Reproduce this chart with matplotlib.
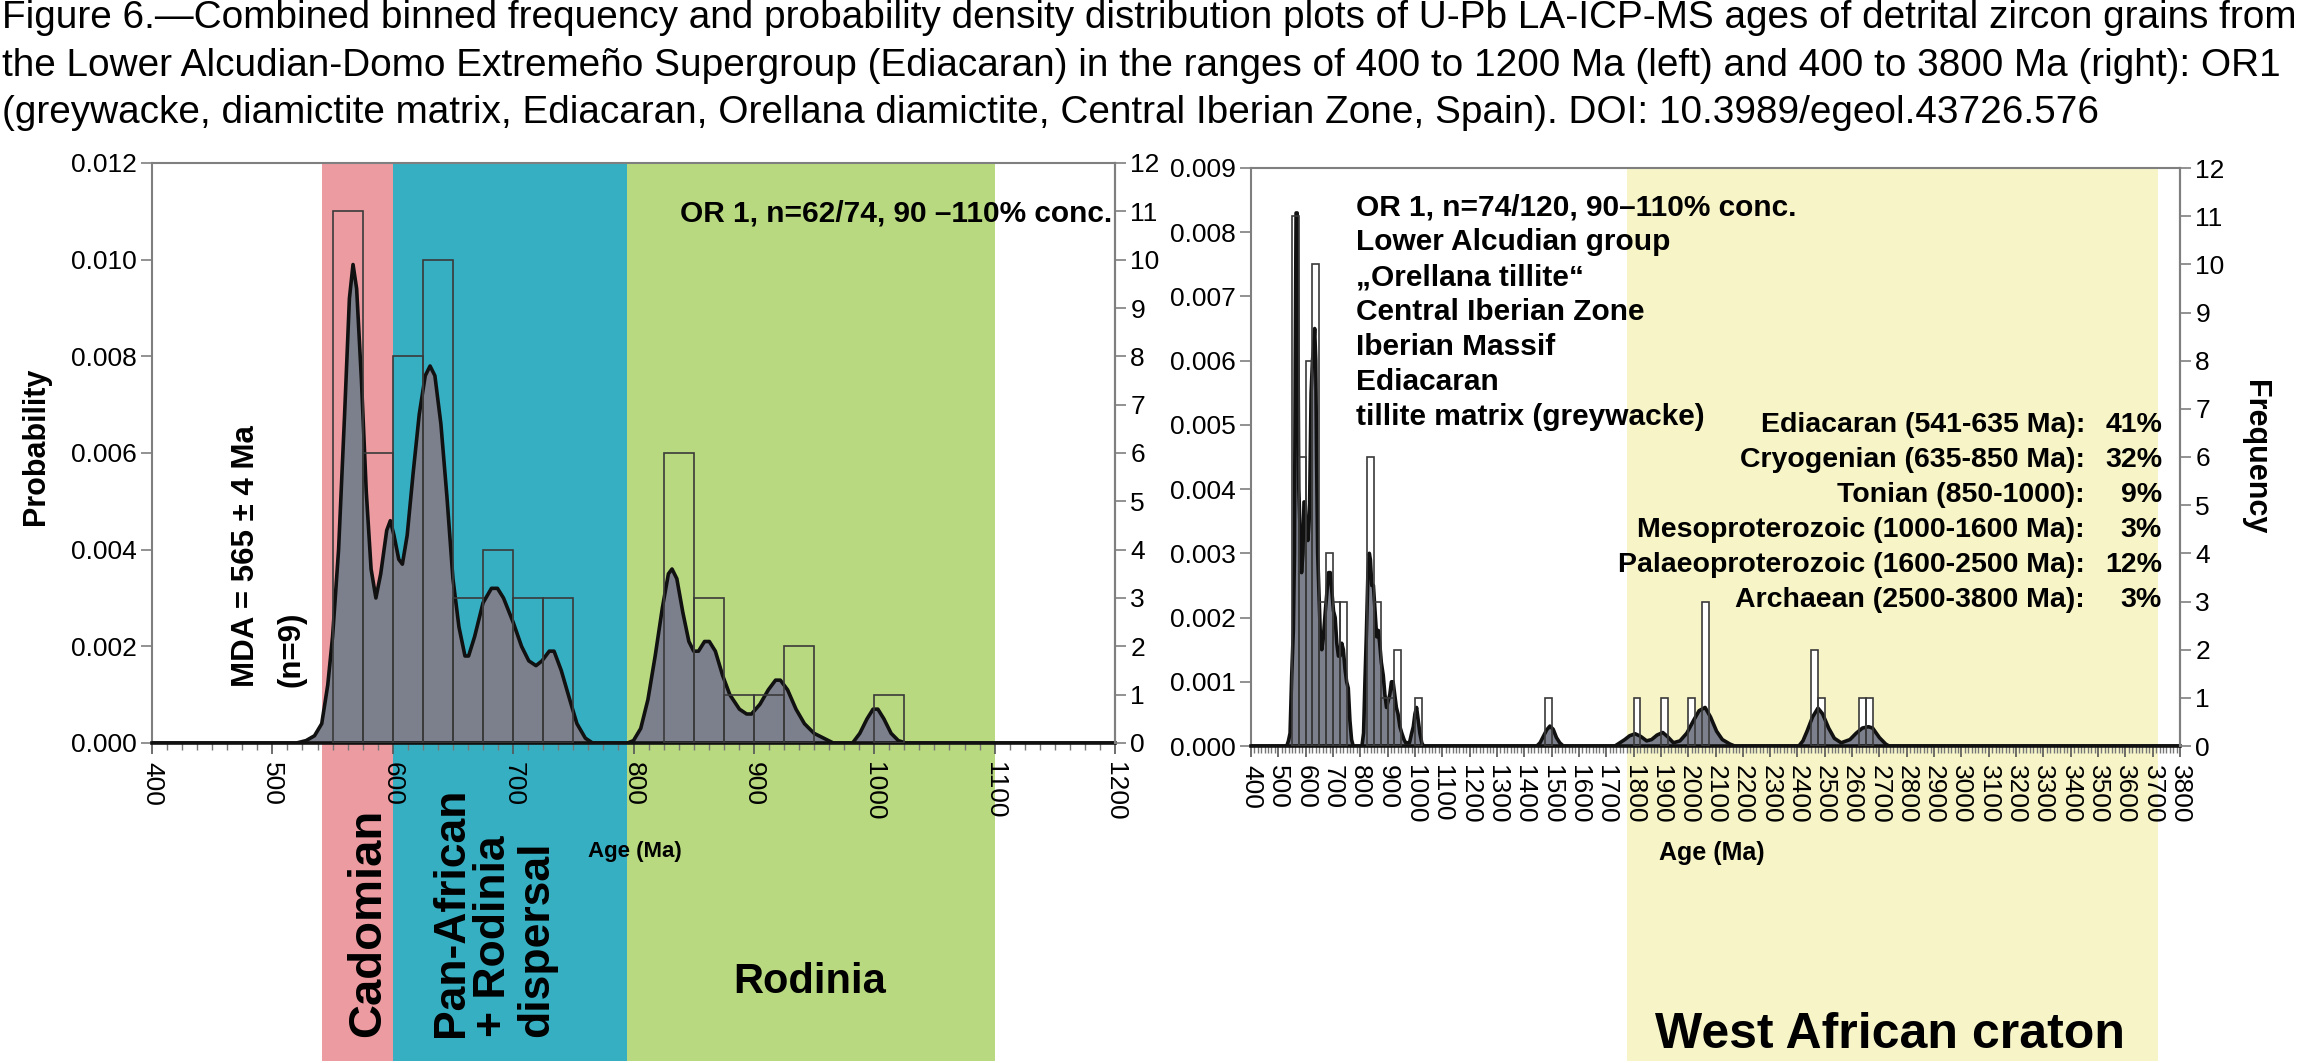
import matplotlib
matplotlib.use("Agg")
import matplotlib.pyplot as plt
import matplotlib.transforms as mtransforms
from matplotlib.patches import Rectangle
from matplotlib.ticker import MultipleLocator, FormatStrFormatter

plt.rcParams['font.family'] = ['Liberation Sans', 'DejaVu Sans']

# ---- data ----
caption = [
    "Figure 6.\u2014Combined binned frequency and probability density distribution plots of U-Pb LA-ICP-MS ages of detrital zircon grains from",
    "the Lower Alcudian-Domo Extreme\u00f1o Supergroup (Ediacaran) in the ranges of 400 to 1200 Ma (left) and 400 to 3800 Ma (right): OR1",
    "(greywacke, diamictite matrix, Ediacaran, Orellana diamictite, Central Iberian Zone, Spain). DOI: 10.3989/egeol.43726.576",
]

bin_width = 25
left_bin_start = [550, 575, 600, 625, 650, 675, 700, 725, 825, 850, 875, 900, 925, 1000]
left_counts = [11, 6, 8, 10, 3, 4, 3, 3, 6, 3, 1, 1, 2, 1]

right_bin_start = left_bin_start + [1475, 1800, 1900, 2000, 2050, 2450, 2475, 2625, 2650]
right_counts = left_counts + [1, 1, 1, 1, 3, 2, 1, 1, 1]

left_pdp_age = [400, 520, 528, 535, 541, 546, 550, 555, 560, 564, 567, 570, 574, 578, 582, 586,
                590, 595, 598, 601, 605, 608, 612, 617, 622, 627, 631, 635, 640, 645, 650, 655,
                660, 663, 668, 675, 682, 687, 692, 700, 707, 713, 719, 724, 730, 734, 740, 747,
                753, 760, 766, 795, 800, 806, 812, 818, 824, 829, 832, 836, 841, 846, 850, 854,
                859, 863, 868, 874, 880, 888, 894, 898, 905, 912, 918, 922, 928, 935, 942, 950,
                958, 966, 982, 988, 994, 999, 1003, 1008, 1014, 1020, 1026, 1200]
left_pdp_prob = [0, 0, 0.00005, 0.00015, 0.0004, 0.0012, 0.0022, 0.0040, 0.0068, 0.0092, 0.0099,
                 0.0094, 0.0075, 0.0052, 0.0036, 0.0030, 0.0035, 0.0044, 0.0046, 0.0043, 0.0038,
                 0.0037, 0.0043, 0.0056, 0.0068, 0.0076, 0.0078, 0.0076, 0.0066, 0.0051, 0.0034,
                 0.0024, 0.0018, 0.0018, 0.0022, 0.0029, 0.0032, 0.0032, 0.0030, 0.0025, 0.0020,
                 0.0017, 0.0016, 0.0017, 0.0019, 0.0019, 0.0015, 0.0009, 0.0004, 0.0001, 0, 0,
                 0.00005, 0.0003, 0.0009, 0.0018, 0.0028, 0.0035, 0.0036, 0.0034, 0.0027, 0.0021,
                 0.0019, 0.0019, 0.0021, 0.0021, 0.0019, 0.0014, 0.0010, 0.0007, 0.0006, 0.0006,
                 0.0008, 0.0011, 0.0013, 0.0013, 0.0011, 0.0007, 0.0004, 0.0002, 0.0001, 0, 0,
                 0.0002, 0.0005, 0.0007, 0.0007, 0.0005, 0.0002, 0.00005, 0, 0]

right_pdp_age = [400, 525, 531, 537, 543, 549, 555, 559, 562, 565, 569, 572, 575, 580, 585, 590,
                 594, 598, 603, 608, 614, 620, 625, 629, 633, 637, 640, 644, 648, 654, 659, 665,
                 672, 678, 684, 690, 696, 702, 708, 714, 720, 726, 732, 738, 744, 750, 756, 762,
                 768, 774, 806, 812, 817, 822, 828, 833, 837, 842, 848, 854, 860, 866, 871, 877,
                 884, 890, 896, 902, 908, 914, 920, 926, 932, 938, 945, 952, 960, 966, 980, 988,
                 994, 1000, 1006, 1012, 1018, 1025, 1031, 1446, 1458, 1470, 1482, 1494, 1506, 1518,
                 1530, 1543, 1732, 1750, 1768, 1786, 1806, 1826, 1848, 1866, 1886, 1907, 1926, 1946,
                 1970, 1995, 2020, 2040, 2062, 2082, 2104, 2125, 2153, 2170, 2405, 2420, 2435, 2455,
                 2475, 2492, 2514, 2535, 2560, 2592, 2615, 2638, 2660, 2675, 2700, 2723, 2735, 3800]
right_pdp_prob = [0, 0, 0, 0.00008, 0.0002, 0.0011, 0.0018, 0.0030, 0.0060, 0.0083, 0.0083, 0.0060,
                  0.0040, 0.0033, 0.0027, 0.0030, 0.0038, 0.0038, 0.0034, 0.0032, 0.0036, 0.0055,
                  0.0060, 0.0062, 0.0065, 0.0060, 0.0045, 0.0030, 0.0025, 0.0017, 0.0015, 0.0017,
                  0.0021, 0.0024, 0.0027, 0.0027, 0.0024, 0.0021, 0.0020, 0.0016, 0.0014, 0.0014,
                  0.0016, 0.0015, 0.0012, 0.0010, 0.0009, 0.0004, 0.0001, 0, 0, 0.0002, 0.0010,
                  0.0017, 0.0027, 0.0030, 0.0029, 0.0025, 0.0025, 0.0021, 0.0017, 0.0018, 0.0016,
                  0.0013, 0.0011, 0.0008, 0.0006, 0.0007, 0.0008, 0.0010, 0.0010, 0.0008, 0.0006,
                  0.0005, 0.0003, 0.0002, 0.0001, 0.00005, 0.00005, 0.0002, 0.0003, 0.0005, 0.0006,
                  0.0004, 0.0002, 0.00005, 0, 0, 0.00005, 0.00015, 0.00025, 0.00031, 0.00026,
                  0.00013, 0.00005, 0, 0, 0.00005, 0.0001, 0.00016, 0.00019, 0.00015, 0.00008,
                  0.0001, 0.00017, 0.00021, 0.00014, 0.00005, 0.00008, 0.0002, 0.0004, 0.00055,
                  0.0006, 0.00045, 0.00023, 0.0001, 0.00003, 0, 0, 0.00008, 0.00023, 0.00045,
                  0.00059, 0.0005, 0.00028, 0.00012, 0.00005, 0.0001, 0.0002, 0.00028, 0.0003,
                  0.00028, 0.00013, 0.00003, 0, 0]

left_bands = [(541, 600, '#ec9ba1'), (600, 795, '#37afc3'), (795, 1100, '#b8d97f')]
right_bands = [(1775, 3720, '#f7f5c8')]

info_lines = ["OR 1, n=74/120, 90\u2013110% conc.", "Lower Alcudian group",
              "\u201eOrellana tillite\u201c", "Central Iberian Zone", "Iberian Massif",
              "Ediacaran", "tillite matrix (greywacke)"]
period_labels = ["Ediacaran (541-635 Ma):", "Cryogenian (635-850 Ma):", "Tonian (850-1000):",
                 "Mesoproterozoic (1000-1600 Ma):", "Palaeoproterozoic (1600-2500 Ma):",
                 "Archaean (2500-3800 Ma):"]
period_pct = ["41%", "32%", "9%", "3%", "12%", "3%"]

# ---- figure ----
W, H = 2324, 1063
fig = plt.figure(figsize=(W / 100, H / 100), dpi=100)


def fx(px):
    return px / W


def fy(py):
    return 1 - py / H


def rect_px(x0, x1, ytop, ybot):
    return [fx(x0), fy(ybot), (x1 - x0) / W, (ybot - ytop) / H]


GREY = '#7f7f7f'
PDP_FILL = '#7c808c'


def make_panel(rect, xmax, pmax, ages, probs, bin_start, counts, bands, white_bars):
    back = fig.add_axes(rect)
    back.set_axis_off()
    back.set_xlim(400, xmax)
    back.set_ylim(0, 12)
    trans = mtransforms.blended_transform_factory(back.transData, fig.transFigure)
    for a, b, c in bands:
        back.add_patch(Rectangle((a, 0.0015), b - a, rect[1] + rect[3] - 0.0015,
                                 transform=trans, facecolor=c, edgecolor='none',
                                 clip_on=False, zorder=0))
    if white_bars:
        back.bar(bin_start, counts, width=bin_width, align='edge', color='white',
                 edgecolor='none', zorder=1)

    mid = fig.add_axes(rect)
    mid.patch.set_visible(False)
    mid.set_xlim(400, xmax)
    mid.set_ylim(0, pmax)
    mid.fill_between(ages, probs, color=PDP_FILL, lw=0, zorder=2)
    mid.plot(ages, probs, color='#111111', lw=2.6, zorder=3, solid_joinstyle='round')

    mid.xaxis.set_major_locator(MultipleLocator(100))
    mid.xaxis.set_minor_locator(MultipleLocator(12.5))
    mid.yaxis.set_major_locator(MultipleLocator(0.001 if pmax < 0.01 else 0.002))
    mid.yaxis.set_major_formatter(FormatStrFormatter('%.3f'))
    mid.tick_params(axis='x', which='major', length=8, width=1.2, color='#555555',
                    labelsize=19, labelrotation=-90, pad=6)
    mid.tick_params(axis='x', which='minor', length=5, width=1, color='#777777')
    mid.tick_params(axis='y', length=8, width=1.2, color=GREY, labelsize=19, pad=3)
    for s in ['left', 'right', 'top']:
        mid.spines[s].set_color(GREY)
        mid.spines[s].set_linewidth(1.5)
    mid.spines['bottom'].set_color('#111111')
    mid.spines['bottom'].set_linewidth(2.6)

    top = mid.twinx()
    top.set_xlim(400, xmax)
    top.set_ylim(0, 12)
    top.set_yticks(range(13))
    top.bar(bin_start, counts, width=bin_width, align='edge', fill=False,
            edgecolor='#3a3a3a', lw=1.2, zorder=4)
    top.tick_params(axis='y', length=8, width=1.2, color=GREY, labelsize=19, pad=3)
    for s in ['left', 'top', 'bottom']:
        top.spines[s].set_visible(False)
    top.spines['right'].set_color(GREY)
    top.spines['right'].set_linewidth(1.5)
    return mid, top


make_panel(rect_px(152, 1115, 163, 743), 1200, 0.012, left_pdp_age, left_pdp_prob,
           left_bin_start, left_counts, left_bands, False)
make_panel(rect_px(1251, 2180, 168, 746), 3800, 0.009, right_pdp_age, right_pdp_prob,
           right_bin_start, right_counts, right_bands, True)

# caption
for i, line in enumerate(caption):
    fig.text(fx(2), fy(28 + 47.5 * i), line, fontsize=27.9, ha='left', va='baseline')

# left panel annotations
fig.text(fx(1112), fy(213), "OR 1, n=62/74, 90 \u2013110% conc.", fontsize=21.5, weight='bold',
         ha='right', va='center')
fig.text(fx(246), fy(687), "MDA = 565 \u00b1 4 Ma", fontsize=22.5, weight='bold', rotation=90,
         ha='center', va='bottom')
fig.text(fx(292), fy(687), "(n=9)", fontsize=22.5, weight='bold', rotation=90,
         ha='center', va='bottom')
fig.text(fx(36), fy(446), "Probability", fontsize=22, weight='bold', rotation=90,
         ha='center', va='center')
fig.text(fx(588), fy(852), "Age (Ma)", fontsize=16, weight='bold', ha='left', va='center')
fig.text(fx(368), fy(1037), "Cadomian", fontsize=34, weight='bold', rotation=90,
         ha='center', va='bottom')
fig.text(fx(494), fy(1037), "Pan-African\n+ Rodinia\ndispersal", fontsize=32, weight='bold',
         rotation=90, ha='center', va='bottom', multialignment='left', linespacing=1.05)
fig.text(fx(810), fy(982), "Rodinia", fontsize=30, weight='bold', ha='center', va='center')

# right panel annotations
for i, line in enumerate(info_lines):
    fig.text(fx(1356), fy(207 + 35 * i), line, fontsize=21.5, weight='bold', ha='left', va='center')
for i, (lab, pct) in enumerate(zip(period_labels, period_pct)):
    fig.text(fx(2085), fy(425 + 35 * i), lab, fontsize=20.5, weight='bold', ha='right', va='center')
    fig.text(fx(2162), fy(425 + 35 * i), pct, fontsize=20.5, weight='bold', ha='right', va='center')
fig.text(fx(2255), fy(457), "Frequency", fontsize=22, weight='bold', rotation=-90,
         ha='center', va='center')
fig.text(fx(1712), fy(853), "Age (Ma)", fontsize=18, weight='bold', ha='center', va='center')
fig.text(fx(1890), fy(1035), "West African craton", fontsize=36, weight='bold',
         ha='center', va='center')

fig.savefig("out.png", dpi=100, facecolor='white')
